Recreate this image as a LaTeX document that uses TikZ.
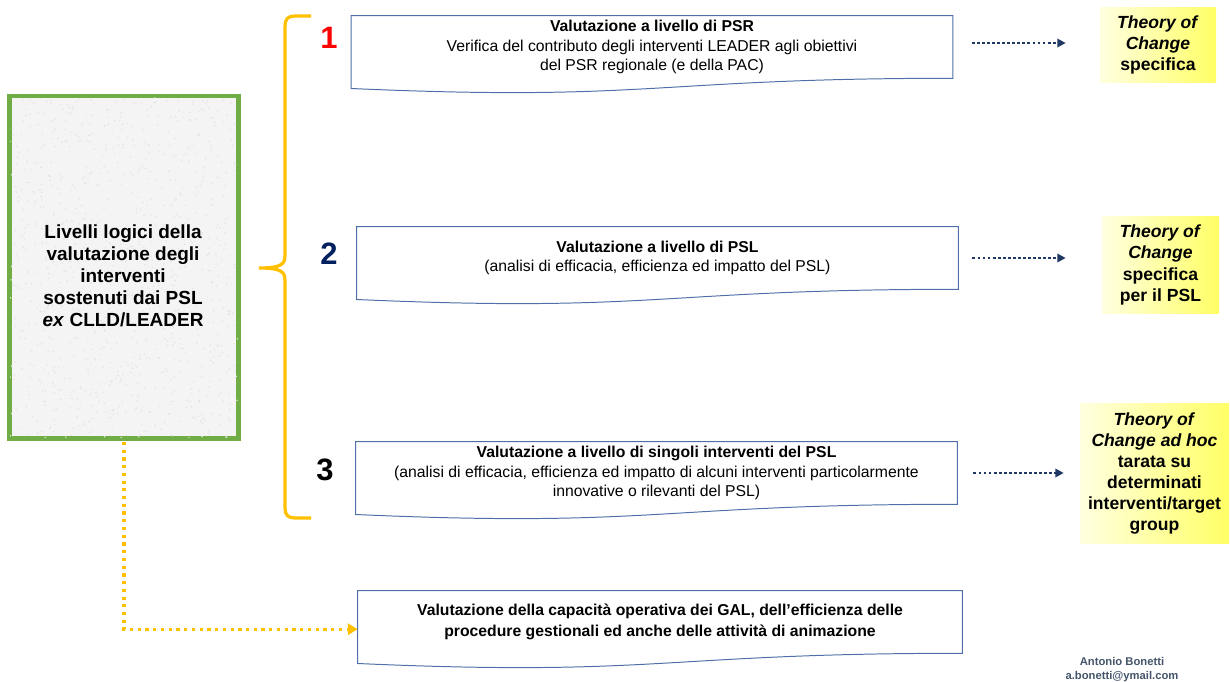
\documentclass[tikz,border=0pt]{standalone}
\usepackage{fontspec}
\setsansfont{Liberation Sans}
\usetikzlibrary{arrows.meta, positioning, calc}
\definecolor{leafgreen}{HTML}{70AD47}
\definecolor{bracegold}{HTML}{FFC000}
\definecolor{navyblue}{HTML}{002060}
\definecolor{dotblue}{HTML}{1F3864}
\definecolor{docedge}{HTML}{4F6FA8}
\definecolor{tocyellow}{HTML}{FFFF66}
\definecolor{tocpale}{HTML}{FFFFE0}
\definecolor{footgray}{HTML}{44546A}

\begin{document}
\begin{tikzpicture}[
  x=0.025cm, y=-0.025cm,
  lvlbox/.style={rectangle, draw=leafgreen, line width=2.2pt, fill=gray!9, minimum width=5.7cm, minimum height=8.525cm},
  docbox/.style={rectangle, inner sep=0pt, minimum width=15.03cm, minimum height=1.55cm, align=center, font=\fontsize{11.2}{13.9}\selectfont\sffamily},
  docline/.style={draw=docedge, line width=0.7pt},
  tocbox/.style={rectangle, left color=tocpale, right color=tocyellow, inner sep=0pt, align=center, font=\fontsize{12.5}{15}\selectfont\sffamily\bfseries},
  lvlnum/.style={font=\fontsize{22}{22}\selectfont\sffamily\bfseries},
  dotarrow/.style={-{Triangle[length=6pt,width=6pt]}, line width=2pt, dash pattern=on 2pt off 1.6pt, color=dotblue},
  goldarrow/.style={-{Triangle[length=7pt,width=8pt]}, line width=2.3pt, dash pattern=on 2.3pt off 3.2pt, color=bracegold}
]
  \useasboundingbox (0,0) rectangle (1230,682);

  % Left - logical levels box
  \node[lvlbox] (lvl) at (124,267.5) {};
  \pgfmathsetseed{7}
  \begin{scope}
    \clip (lvl.south west) rectangle (lvl.north east);
    \foreach \k in {1,...,900}
      \fill[gray!22] ($(lvl.center)+(rnd*228-114,rnd*341-170.5)$) circle (0.6pt);
  \end{scope}
  \draw[leafgreen, line width=2.2pt] (lvl.south west) rectangle (lvl.north east);
  \node[font=\fontsize{13.5}{15.6}\selectfont\sffamily\bfseries, align=center] (lvltext) at (123,276)
    {Livelli logici della\\ valutazione degli\\ interventi\\ sostenuti dai PSL\\ \textit{ex} CLLD/LEADER};

  % Brace over the three levels
  \draw[bracegold, line width=2.3pt] (311,16) -- (295,16) .. controls (288,16) and (285,19) .. (285,26)
    -- (285,255) .. controls (285,264) and (282,268) .. (259,268)
    .. controls (282,268) and (285,272) .. (285,281)
    -- (285,508) .. controls (285,515) and (288,518) .. (295,518) -- (311,518);

  % Level numbers
  \node[lvlnum, color=red] (num1) at (329,38) {1};
  \node[lvlnum, color=navyblue] (num2) at (329,254) {2};
  \node[lvlnum, color=black] (num3) at (325,470) {3};

  % Evaluation boxes (document shape)
  \node[docbox] (psr) at (652,47) {\textbf{Valutazione a livello di PSR}\\ Verifica del contributo degli interventi LEADER agli obiettivi\\ del PSR regionale (e della PAC)};
  \node[docbox] (psl) at (657.5,258) {\textbf{Valutazione a livello di PSL}\\ (analisi di efficacia, efficienza ed impatto del PSL)};
  \node[docbox] (sing) at (656.5,473) {\textbf{Valutazione a livello di singoli interventi del PSL}\\ (analisi di efficacia, efficienza ed impatto di alcuni interventi particolarmente\\ innovative o rilevanti del PSL)};
  \node[docbox, minimum width=15.1cm, font=\fontsize{11.2}{14.8}\selectfont\sffamily\bfseries] (gal) at (660,622) {Valutazione della capacità operativa dei GAL, dell’efficienza delle\\ procedure gestionali ed anche delle attività di animazione};

  \foreach \n in {psr,psl,sing,gal}
    \draw[docline] (\n.north west) -- (\n.north east) -- (\n.south east)
      .. controls (\n.south) and ([yshift=-0.59cm]\n.south) .. ([yshift=-0.255cm]\n.south west) -- cycle;

  % Theory of Change boxes
  \node[tocbox, minimum width=2.9cm, minimum height=1.85cm] (toc1) at (1158,45) {\textit{Theory of}\\ \textit{Change}\\ specifica};
  \node[tocbox, minimum width=2.925cm, minimum height=2.4cm] (toc2) at (1160.5,265) {\textit{Theory of}\\ \textit{Change}\\ specifica\\ per il PSL};
  \node[tocbox, minimum width=3.725cm, minimum height=3.475cm] (toc3) at (1154.5,473.5) {\textit{Theory of}\\ \textit{Change ad hoc}\\ tarata su\\ determinati\\ interventi/target\\ group};

  % Dotted links to the Theory of Change
  \draw[dotarrow, shorten <=0.47cm, shorten >=0.85cm] ([yshift=0.1cm]psr.east) -- ([yshift=0.1cm]psr.east -| toc1.west);
  \draw[dotarrow, shorten <=0.35cm, shorten >=0.9cm] (psl.east) -- (psl.east -| toc2.west);
  \draw[dotarrow, shorten <=0.4cm, shorten >=0.4cm] (sing.east) -- (sing.east -| toc3.west);

  % Operating capacity link
  \draw[goldarrow] ([yshift=-1.6pt]lvl.south) |- ([yshift=-0.18cm]gal.west);

  % Signature
  \node[font=\fontsize{8}{10}\selectfont\sffamily\bfseries, color=footgray, align=center] (sign) at (1122,670) {Antonio Bonetti\\ a.bonetti@ymail.com};
\end{tikzpicture}
\end{document}
